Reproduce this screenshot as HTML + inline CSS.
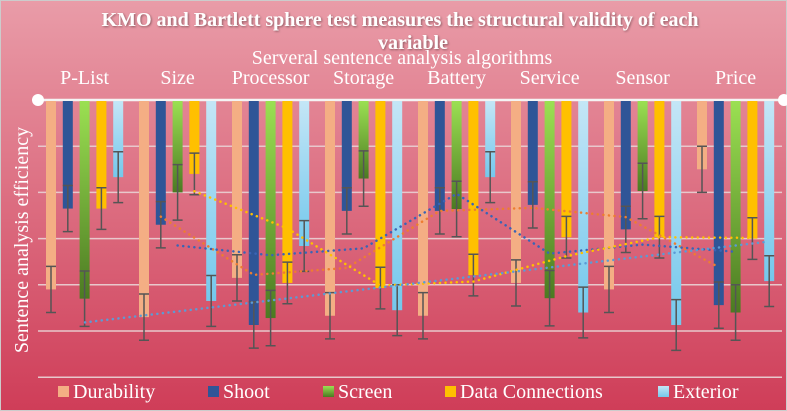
<!DOCTYPE html>
<html><head><meta charset="utf-8"><style>
body{margin:0;width:787px;height:411px;overflow:hidden;font-family:"Liberation Serif",serif}
svg{display:block}
</style></head><body>
<svg width="787" height="411" xmlns="http://www.w3.org/2000/svg">
<defs>
<linearGradient id="bg" x1="0" y1="0" x2="0" y2="1"><stop offset="0" stop-color="#e99ca8"/><stop offset="1" stop-color="#cf3d58"/></linearGradient>
<linearGradient id="gScreen" x1="0" y1="0" x2="0" y2="1"><stop offset="0" stop-color="#9be052"/><stop offset="1" stop-color="#4c7a22"/></linearGradient>
<linearGradient id="gExt" x1="0" y1="0" x2="0" y2="1"><stop offset="0" stop-color="#c4e6f6"/><stop offset="1" stop-color="#74c8ec"/></linearGradient>
<filter id="sh"><feDropShadow dx="1" dy="1" stdDeviation="1" flood-color="#000" flood-opacity="0.4"/></filter>
</defs>
<rect x="0.5" y="0.5" width="786" height="410" fill="url(#bg)" stroke="#ccc"/>
<text x="400" y="26" text-anchor="middle" font-size="20" font-weight="bold" fill="#fff" filter="url(#sh)">KMO and Bartlett sphere test measures the structural validity of each</text>
<text x="413" y="49" text-anchor="middle" font-size="20" font-weight="bold" fill="#fff" filter="url(#sh)">variable</text>
<text x="402" y="64" text-anchor="middle" font-size="20" fill="#fff">Serveral sentence analysis algorithms</text>
<text transform="translate(28,240) rotate(-90)" text-anchor="middle" font-size="20" fill="#fff">Sentence analysis efficiency</text>
<g id="grid"></g><g id="cats"></g><g id="bars"></g><g id="trends"></g><g id="legend"></g>
</svg>
<script>
const categories=["P-List","Size","Processor","Storage","Battery","Service","Sensor","Price"];
const seriesNames=["Durability","Shoot","Screen","Data Connections","Exterior"];
const durability=[4.1,4.7,3.85,4.67,4.67,3.96,4.1,1.5];
const shoot=[2.35,2.7,4.87,2.4,2.4,2.27,2.8,4.44];
const screen=[4.3,2.0,4.72,1.7,2.36,4.29,1.97,4.6];
const dataConn=[2.35,1.6,3.96,4.07,3.79,2.97,2.97,3.0];
const exterior=[1.67,4.35,3.16,4.55,1.67,4.6,4.87,3.92];
const errors=[0.5,0.5,0.6,0.45,0.55];
const yTicks=[0,1,2,3,4,5,6];
const NS="http://www.w3.org/2000/svg";
const x0=38,x1=782,yTop=100,unit=46.2,catW=93;
const y=v=>yTop+v*unit;
const barX=(c,s)=>46+c*catW+s*16.8;
const fills=["#f4ae84","#2f5597","url(#gScreen)","#ffc000","url(#gExt)"];
const all=[durability,shoot,screen,dataConn,exterior];
function mk(t,a,p){const e=document.createElementNS(NS,t);for(const k in a)e.setAttribute(k,a[k]);p.appendChild(e);return e;}
const grid=document.getElementById('grid');
yTicks.forEach(t=>{const l=mk('line',{x1:x0,x2:x1,y1:y(t),y2:y(t),stroke:t===0?'#f4f4f4':'#e8c8cc','stroke-width':t===0?2.5:1.5},grid);

});
const c0=mk('circle',{cx:x0,cy:yTop,r:6,fill:'#fff'},grid);


const c1=mk('circle',{cx:x1+2,cy:yTop,r:6,fill:'#fff'},grid);


const cats=document.getElementById('cats');
categories.forEach((c,i)=>{const t=mk('text',{x:barX(i,2)+5,y:84,'text-anchor':'middle','font-size':20,fill:'#fff'},cats);t.textContent=c;

});
const bars=document.getElementById('bars');
all.forEach((arr,s)=>{arr.forEach((v,i)=>{const bx=barX(i,s);
const r=mk('rect',{x:bx,y:yTop+1,width:10,height:y(v)-yTop-1,fill:fills[s]},bars);


const e=errors[s],cx=bx+5;
const g=mk('path',{d:`M${cx} ${y(v-e)}V${y(v+e)}M${cx-5} ${y(v-e)}h10M${cx-5} ${y(v+e)}h10`,stroke:'#555','stroke-width':1.5,fill:'none'},bars);

});});
const tr=document.getElementById('trends');
function dotted(pts,col,name){const p=mk('polyline',{points:pts.map(q=>q.join(',')).join(' '),fill:'none',stroke:col,'stroke-width':2.5,'stroke-dasharray':'0.1 5.5','stroke-linecap':'round'},tr);

}
// moving-average trendlines
[[1,'#ed7d31'],[2,'#3a64b5'],[3,'#ffc000']].forEach(([s,col])=>{const arr=all[s];const pts=[];
for(let i=1;i<arr.length;i++)pts.push([barX(i,s)+5,y((arr[i]+arr[i-1])/2)]);
dotted(pts,col,'trendline-'+seriesNames[s].toLowerCase().replace(/ /g,'-'));});
// linear trendline for durability
(function(){const n=durability.length;let sx=0,sy=0,sxy=0,sxx=0;durability.forEach((v,i)=>{sx+=i;sy+=v;sxy+=i*v;sxx+=i*i;});
const b=(n*sxy-sx*sy)/(n*sxx-sx*sx),a=(sy-b*sx)/n;
dotted([[85,y(a)],[765,y(a+b*(n-1))]],'#5b9bd5','trendline-durability-linear');})();
const lg=document.getElementById('legend');
const lx=[58,208,323,445,658];
seriesNames.forEach((n,s)=>{const g=mk('g',{},lg);


mk('rect',{x:lx[s],y:386,width:11,height:11,fill:fills[s]},g);
const t=mk('text',{x:lx[s]+15,y:398,'font-size':20,fill:'#fff'},g);t.textContent=n;});
</script>
</body></html>
